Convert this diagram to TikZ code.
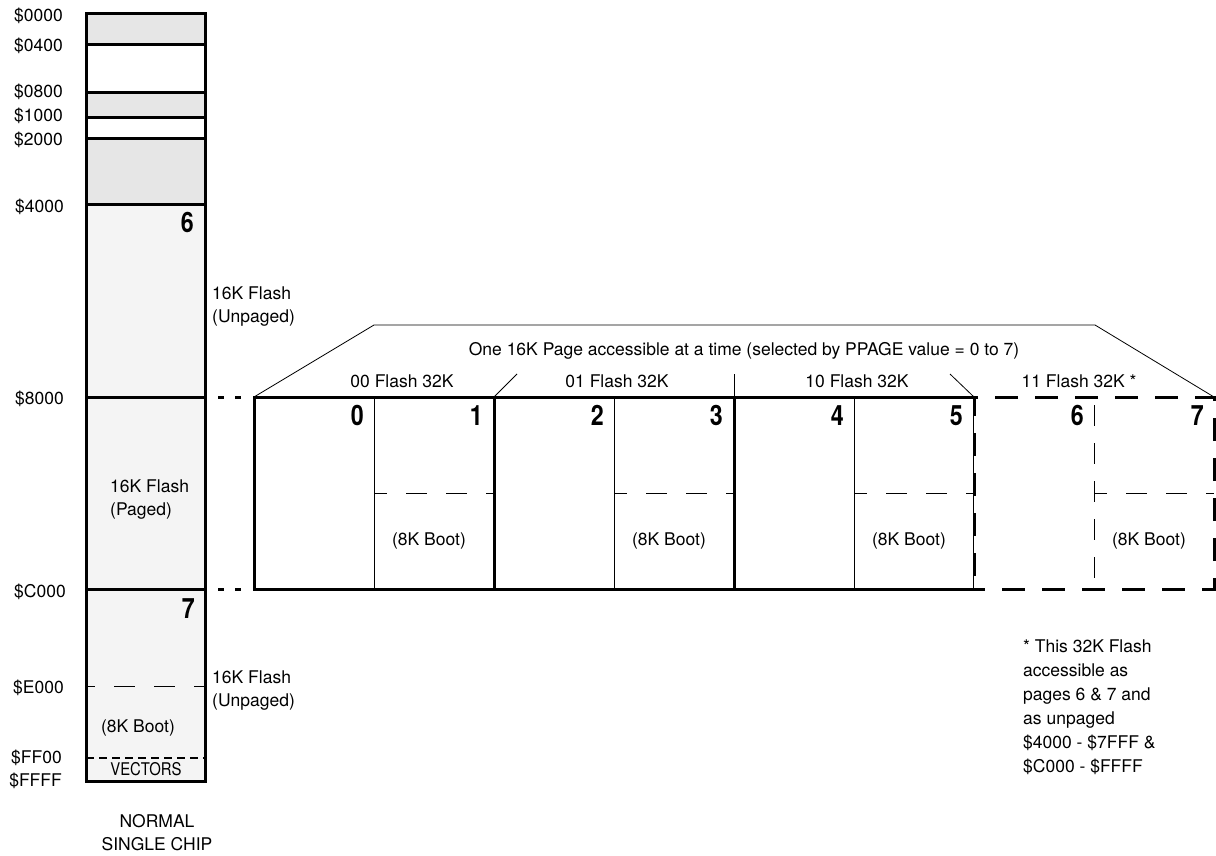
\documentclass[tikz,border=0pt]{standalone}
\usepackage{fontspec}
\setmainfont{TeX Gyre Heros}
\newfontfamily\numfont[FakeStretch=0.83]{TeX Gyre Heros}
\newfontfamily\condfont[FakeStretch=0.85]{TeX Gyre Heros}
\definecolor{grayA}{HTML}{E6E6E6}
\definecolor{grayB}{HTML}{F4F4F4}
\begin{document}
\begin{tikzpicture}[x=1pt,y=-1pt,
  txt/.style={inner sep=0pt,font=\fontsize{17.5}{23}\selectfont},
  addr/.style={txt,anchor=base east},
  pnum/.style={inner sep=0pt,anchor=base east,font=\numfont\bfseries\fontsize{28}{28}\selectfont},
  seg/.style={draw,line width=3pt,minimum width=119pt,inner sep=0pt,outer sep=0pt},
  blk/.style={draw,line width=3pt,fill=white,minimum width=240pt,minimum height=192pt,inner sep=0pt,outer sep=0pt},
  dblk/.style={blk,dash pattern=on 23pt off 17pt,dash phase=12pt},
  thinln/.style={line width=0.8pt},
  bootdash/.style={line width=0.8pt,dash pattern=on 21pt off 19pt,dash phase=8pt},
  dotconn/.style={line width=3pt,dash pattern=on 0pt off 13pt on 6pt off 11pt on 6pt off 13pt}
]
\useasboundingbox (0,0) rectangle (1216,856);
% memory column
\node[seg,fill=grayA,minimum height=31pt] (s0) at (145.5,29.5) {};
\node[seg,fill=white,minimum height=48pt] (s1) at (145.5,69) {};
\node[seg,fill=grayA,minimum height=25pt] (s2) at (145.5,105.5) {};
\node[seg,fill=white,minimum height=21pt] (s3) at (145.5,128.5) {};
\node[seg,fill=grayA,minimum height=65pt] (s4) at (145.5,171.5) {};
\node[seg,fill=grayB,minimum height=193pt] (s5) at (145.5,300.5) {};
\node[seg,fill=grayB,minimum height=192pt] (s6) at (145.5,493) {};
\node[seg,fill=grayB,minimum height=192pt] (s7) at (145.5,685) {};
\draw[bootdash,dash phase=12pt] (s7.west |- 0,686) -- (s7.east |- 0,686);
\draw[line width=2pt,dash pattern=on 8pt off 5pt] (s7.west |- 0,758) -- (s7.east |- 0,758);
% addresses
\node[addr] (a0000) at (63,22) {\$0000};
\node[addr] (a0400) at (63,52) {\$0400};
\node[addr] (a0800) at (63,98) {\$0800};
\node[addr] (a1000) at (63,122) {\$1000};
\node[addr] (a2000) at (63,146) {\$2000};
\node[addr] (a4000) at (64,212) {\$4000};
\node[addr] (a8000) at (64,404) {\$8000};
\node[addr] (aC000) at (66,597) {\$C000};
\node[addr] (aE000) at (64,693) {\$E000};
\node[addr] (aFF00) at (62,763) {\$FF00};
\node[addr] (aFFFF) at (62,786) {\$FFFF};
% column labels
\node[pnum] (n6) at (194,232) {6};
\node[pnum] (n7) at (195,618) {7};
\node[txt,anchor=base west,align=left] (u1) at (212,322) {16K Flash\\(Unpaged)};
\node[txt,anchor=base west,align=left] (pg) at (110,515) {16K Flash\\(Paged)};
\node[txt,anchor=base west,align=left] (u2) at (212,706) {16K Flash\\(Unpaged)};
\node[txt,anchor=base] (boot0) at (138,732) {(8K Boot)};
\node[txt,anchor=base,font=\condfont\fontsize{17.5}{23}\selectfont] (vec) at (146,775) {VECTORS};
\node[txt,anchor=base,align=center] (nsc) at (157,850) {NORMAL\\SINGLE CHIP};
% page blocks
\node[blk] (b01) at (374,493) {};
\node[blk] (b23) at (614,493) {};
\node[blk] (b45) at (854,493) {};
\node[dblk] (b67) at (1094,493) {};
\foreach \b in {b01,b23,b45} {
  \draw[thinln] (\b.north) -- (\b.south);
  \draw[bootdash] (\b.center) -- (\b.east);
}
\draw[thinln,dash pattern=on 21pt off 17pt,dash phase=-8pt] (b67.north) -- (b67.south);
\draw[bootdash] (b67.center) -- (b67.east);
% page numbers
\node[pnum] (p0) at (364,425) {0};
\node[pnum] (p1) at (483,425) {1};
\node[pnum] (p2) at (604,425) {2};
\node[pnum] (p3) at (723,425) {3};
\node[pnum] (p4) at (844,425) {4};
\node[pnum] (p5) at (963,425) {5};
\node[pnum] (p6) at (1084,425) {6};
\node[pnum] (p7) at (1204,425) {7};
% boot labels
\foreach \b/\x in {b01/429,b23/669,b45/909,b67/1149}
  \node[txt,anchor=base] (boot\b) at (\x,545) {(8K Boot)};
% connectors
\draw[dotconn] (s5.south east) -- (b01.north west);
\draw[dotconn] (s6.south east) -- (b01.south west);
% trapezoid
\coordinate (tl) at (374,325);
\coordinate (tr) at (1095,325);
\draw[thinln] (b01.north west) -- (tl) -- (tr) -- (b67.north east);
\coordinate (sl1) at (517,374);
\coordinate (sl2) at (734,374);
\coordinate (sl3) at (950,374);
\draw[thinln] (b01.north east) -- (sl1);
\draw[thinln] (b23.north east) -- (sl2);
\draw[thinln] (b45.north east) -- (sl3);
% headers
\node[txt,anchor=base] (title) at (744,355) {One 16K Page accessible at a time (selected by PPAGE value = 0 to 7)};
\node[txt,anchor=base] (h00) at (402,387) {00 Flash 32K};
\node[txt,anchor=base] (h01) at (617,387) {01 Flash 32K};
\node[txt,anchor=base] (h10) at (857,387) {10 Flash 32K};
\node[txt,anchor=base] (h11) at (1079,387) {11 Flash 32K *};
% note
\node[txt,anchor=base west,align=left,font=\fontsize{17.5}{24}\selectfont] (note) at (1023,772)
  {* This 32K Flash\\accessible as\\pages 6 \& 7 and\\as unpaged\\\$4000 - \$7FFF \&\\\$C000 - \$FFFF};
\end{tikzpicture}
\end{document}
